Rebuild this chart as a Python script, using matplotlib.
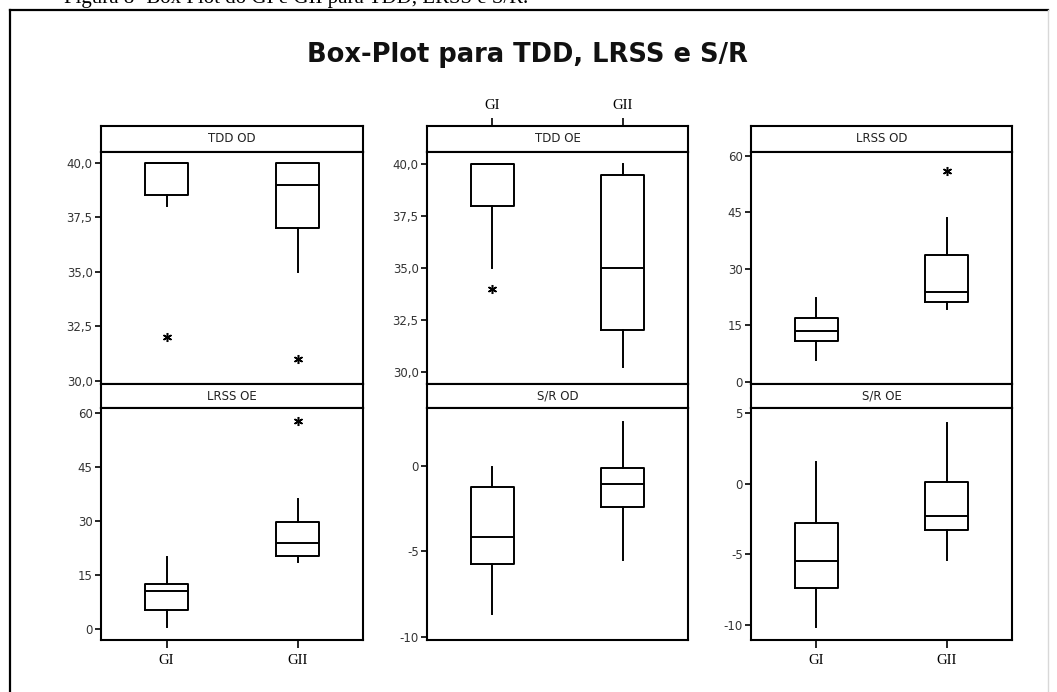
import matplotlib.pyplot as plt
from matplotlib.lines import Line2D
from matplotlib.ticker import FuncFormatter

# groups and panels (row by row)
groups = ['GI', 'GII']
panels = ['TDD OD', 'TDD OE', 'LRSS OD', 'LRSS OE', 'S/R OD', 'S/R OE']

# box statistics per panel, [GI, GII]
q1 = [[38.5, 37.0], [38.0, 32.0], [10.8, 21.2], [5.4, 20.4], [-5.74, -2.4], [-7.43, -3.31]]
med = [[40.0, 39.0], [40.0, 35.0], [13.6, 23.7], [10.6, 23.9], [-4.17, -1.05], [-5.51, -2.3]]
q3 = [[40.0, 40.0], [40.0, 39.5], [16.8, 33.7], [12.6, 29.9], [-1.26, -0.12], [-2.82, 0.14]]
whis_lo = [[38.0, 35.0], [35.0, 30.2], [5.8, 19.2], [0.7, 18.8], [-8.64, -5.49], [-10.16, -5.45]]
whis_hi = [[40.0, 40.0], [40.0, 40.0], [22.3, 43.5], [20.2, 36.1], [-0.1, 2.56], [1.56, 4.29]]
outliers = [[[32.0], [31.0]], [[34.0], []], [[], [56.0]], [[], [57.9]], [[], []], [[], []]]

# axis settings per panel
ylims = [(29.86, 40.49), (29.4, 40.6), (-0.6, 61.0), (-3.0, 61.5), (-10.16, 3.36), (-11.1, 5.38)]
yticks = [[30, 32.5, 35, 37.5, 40], [30, 32.5, 35, 37.5, 40], [0, 15, 30, 45, 60],
          [0, 15, 30, 45, 60], [-10, -5, 0], [-10, -5, 0, 5]]

W, H = 1057, 692
fig = plt.figure(figsize=(W / 100, H / 100), dpi=100)
fig.patch.set_facecolor('white')


def px_axes(x0, y0, x1, y1):
    # pixel box (top-left origin) -> axes
    return fig.add_axes([x0 / W, 1 - y1 / H, (x1 - x0) / W, (y1 - y0) / H])


# outer frame of the figure
fig.add_artist(Line2D([10 / W, 10 / W], [0, 1 - 10 / H], color='black', lw=1.6, transform=fig.transFigure))
fig.add_artist(Line2D([10 / W, 1048 / W], [1 - 10 / H, 1 - 10 / H], color='black', lw=1.6, transform=fig.transFigure))
fig.add_artist(Line2D([1048 / W, 1048 / W], [0, 1 - 10 / H], color='#d8d8d8', lw=1.0, transform=fig.transFigure))

# caption cut off at top
fig.text(64 / W, 1 - 3 / H, 'Figura 8- Box Plot do GI e GII para TDD, LRSS e S/R.',
         family='Liberation Serif', fontsize=15, va='baseline', ha='left')

fig.text(527 / W, 1 - 55 / H, 'Box-Plot para TDD, LRSS e S/R', fontsize=18.5,
         fontweight='bold', ha='center', va='center', color='#111111')

cols = [(101, 363), (427, 688), (751, 1012)]
rows = [(126, 152, 384), (384, 408, 640)]


def fmt(panel_idx):
    if panel_idx < 2:
        return FuncFormatter(lambda v, p: ('%.1f' % v).replace('.', ','))
    return FuncFormatter(lambda v, p: '%d' % v)


for i, name in enumerate(panels):
    r, c = divmod(i, 3)
    x0, x1 = cols[c]
    s0, s1, b = rows[r]

    # strip with panel name
    st = px_axes(x0, s0, x1, s1)
    st.set_xticks([])
    st.set_yticks([])
    for sp in st.spines.values():
        sp.set_linewidth(1.5)
    st.text(0.5, 0.5, name, ha='center', va='center', fontsize=8.5, color='#222222',
            transform=st.transAxes)

    ax = px_axes(x0, s1, x1, b)
    stats = []
    for g in range(2):
        stats.append(dict(label=groups[g], q1=q1[i][g], med=med[i][g], q3=q3[i][g],
                          whislo=whis_lo[i][g], whishi=whis_hi[i][g], fliers=outliers[i][g]))
    ax.bxp(stats, positions=[1, 2], widths=0.33, showcaps=False, patch_artist=False,
           boxprops=dict(color='black', lw=1.4),
           medianprops=dict(color='black', lw=1.4),
           whiskerprops=dict(color='black', lw=1.4),
           flierprops=dict(marker=(6, 2, 0), markersize=6.5, markeredgewidth=1.1,
                           markeredgecolor='black', linestyle='none'))
    ax.set_xlim(0.5, 2.5)
    ax.set_ylim(*ylims[i])
    ax.set_yticks(yticks[i])
    ax.yaxis.set_major_formatter(fmt(i))
    for sp in ax.spines.values():
        sp.set_linewidth(1.5)
    ax.tick_params(axis='y', direction='out', length=4, width=1.2, labelsize=8.5,
                   labelcolor='#333333', pad=2)

    if i in (3, 5):
        ax.set_xticks([1, 2])
        ax.set_xticklabels(groups, family='Liberation Serif', fontsize=10.5)
        ax.tick_params(axis='x', direction='out', length=6, width=1.2, pad=4)
    elif i == 1:
        # top ticks sit above the strip
        ax.set_xticks([])
        st.set_xlim(0.5, 2.5)
        st.set_xticks([1, 2])
        st.xaxis.tick_top()
        st.set_xticklabels(groups, family='Liberation Serif', fontsize=10.5)
        st.tick_params(axis='x', direction='out', length=6, width=1.2, pad=4)
    else:
        ax.set_xticks([])

fig.savefig('out.png', dpi=100, facecolor='white')
